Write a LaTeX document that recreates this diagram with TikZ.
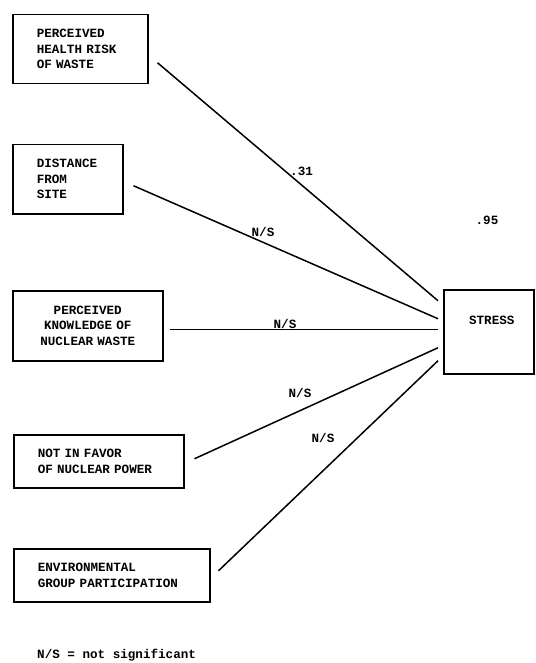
\documentclass[tikz,border=0pt]{standalone}
\usepackage{fontspec}
\setmonofont{Liberation Mono}
\usetikzlibrary{positioning}

\begin{document}
\begin{tikzpicture}[x=1pt, y=-1pt,
    factor/.style={draw, line width=1.5pt, anchor=north west, align=left,
        inner xsep=24pt, inner ysep=0pt,
        font=\ttfamily\bfseries\fontsize{12.6}{15.5}\selectfont},
    outcome/.style={draw, line width=1.5pt, anchor=north west,
        minimum width=90pt, minimum height=84pt, text height=8pt, text depth=22pt,
        font=\ttfamily\bfseries\fontsize{12.6}{15.5}\selectfont},
    coef/.style={inner sep=0pt, font=\ttfamily\bfseries\fontsize{12.6}{15.5}\selectfont},
    link/.style={line width=1.5pt}]
    \useasboundingbox (0,0) rectangle (535,663);

    % Predictor boxes
    \node[factor, text width=87pt, minimum height=69pt] (risk) at (12,14) {PERCEIVED\\HEALTH RISK\\OF WASTE};
    \node[factor, text width=62pt, minimum height=69pt] (dist) at (12,144) {DISTANCE\\FROM\\SITE};
    \node[factor, text width=102pt, minimum height=70pt, align=center] (know) at (12,290) {PERCEIVED\\KNOWLEDGE OF\\NUCLEAR WASTE};
    \node[factor, text width=122pt, minimum height=53pt] (favor) at (13,434) {NOT IN FAVOR\\OF NUCLEAR POWER};
    \node[factor, text width=148pt, minimum height=53pt] (group) at (13,548) {ENVIRONMENTAL\\GROUP PARTICIPATION};

    % Outcome box
    \node[outcome] (stress) at (443,289) {\hspace*{6pt}STRESS};

    % Paths into stress
    \draw[link] ([xshift=9pt,yshift=-13.5pt]risk.east) -- ([xshift=-5pt,yshift=31pt]stress.west);
    \draw[link] ([xshift=10pt,yshift=-6.5pt]dist.east) -- ([xshift=-5pt,yshift=13pt]stress.west);
    \draw[link] ([xshift=6pt,yshift=-3.5pt]know.east) -- ([xshift=-5pt,yshift=2.5pt]stress.west);
    \draw[link] ([xshift=10pt,yshift=2.5pt]favor.east) -- ([xshift=-5pt,yshift=-16pt]stress.west);
    \draw[link] ([xshift=8pt,yshift=4.5pt]group.east) -- ([xshift=-5pt,yshift=-29pt]stress.west);

    % Path coefficients
    \node[coef, anchor=west] (c-risk) at (290,171) {.31};
    \node[coef] (c-dist) at (263,232) {N/S};
    \node[coef] (c-know) at (285,324) {N/S};
    \node[coef] (c-favor) at (300,393) {N/S};
    \node[coef] (c-group) at (323,438) {N/S};

    % Explained variance
    \node[coef] (r-stress) at (487,220) {.95};

    % Legend
    \node[coef, anchor=west] (legend) at (37,655) {N/S = not significant};

\end{tikzpicture}
\end{document}
